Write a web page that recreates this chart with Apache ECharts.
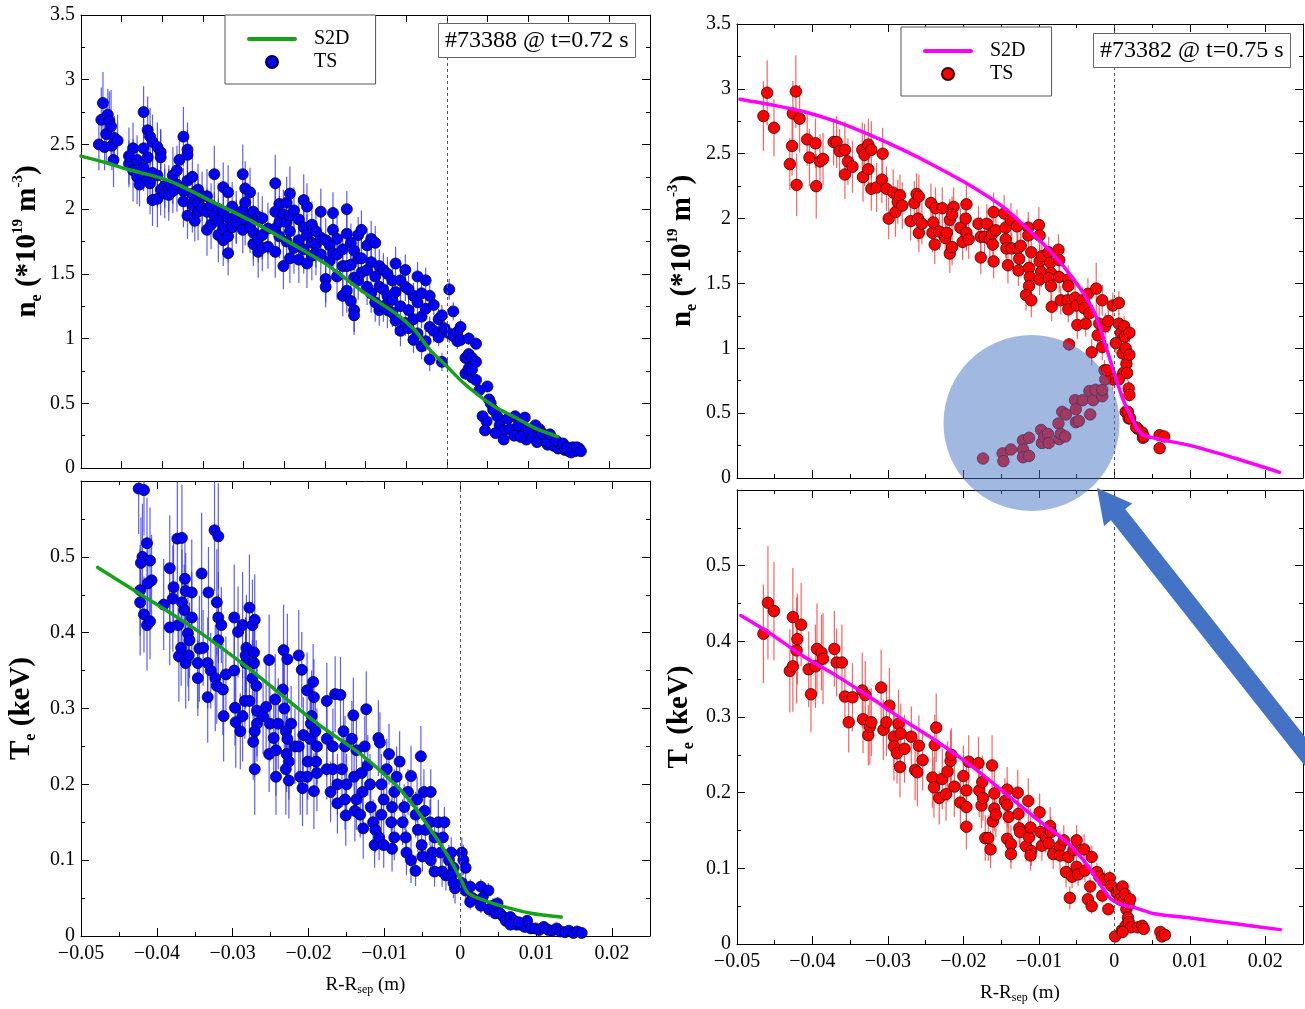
<!DOCTYPE html>
<html><head><meta charset="utf-8">
<script src="https://cdn.jsdelivr.net/npm/echarts@6/dist/echarts.min.js"></script>
<style>html,body{margin:0;padding:0;background:#fff}#c{width:1305px;height:1009px}</style>
</head><body><div id="c"></div>
<script>
const FONT = '"Liberation Serif","Times New Roman",serif';

// ---- #73388 @ t=0.72 s : n_e (TS) [x (m), ne (1e19 m^-3), error]
const neTS_73388 = [
[-0.0428,2.50,0.20],[-0.0425,2.69,0.25],[-0.0423,2.82,0.24],[-0.0421,2.48,0.18],[-0.0419,2.58,0.22],[-0.0417,2.73,0.20],[-0.0415,2.68,0.23],[-0.0413,2.64,0.28],[-0.0412,2.49,0.19],[-0.0410,2.38,0.21],[-0.0409,2.55,0.17],[-0.0405,2.53,0.20],
[-0.0391,2.35,0.18],[-0.0391,2.41,0.22],[-0.0386,2.47,0.20],[-0.0386,2.30,0.24],[-0.0381,2.38,0.19],[-0.0381,2.25,0.21],[-0.0378,2.19,0.17],[-0.0373,2.75,0.20],[-0.0373,2.47,0.23],[-0.0373,2.32,0.18],[-0.0368,2.61,0.26],[-0.0368,2.40,0.20],[-0.0368,2.23,0.19],[-0.0365,2.56,0.22],[-0.0365,2.20,0.24],[-0.0362,2.52,0.21],[-0.0362,2.28,0.18],[-0.0362,2.07,0.20],[-0.0356,2.48,0.19],[-0.0356,2.08,0.22],[-0.0356,2.26,0.25],[-0.0352,2.44,0.18],[-0.0352,2.40,0.21],[-0.0352,2.15,0.20],[-0.0347,2.18,0.17],[-0.0347,2.12,0.19],
[-0.0342,2.16,0.18],[-0.0342,2.11,0.20],[-0.0337,2.26,0.22],[-0.0337,2.14,0.17],[-0.0332,2.30,0.19],[-0.0332,2.19,0.21],[-0.0329,2.38,0.20],[-0.0324,2.56,0.23],[-0.0324,2.14,0.18],[-0.0324,2.06,0.20],[-0.0319,2.46,0.21],[-0.0319,2.42,0.19],[-0.0319,2.22,0.22],[-0.0319,1.95,0.18],[-0.0313,2.25,0.20],[-0.0313,2.12,0.17],[-0.0313,2.03,0.21],[-0.0310,2.08,0.19],[-0.0310,1.91,0.16],[-0.0306,2.15,0.20],[-0.0306,2.05,0.18],[-0.0306,1.98,0.22],[-0.0301,2.10,0.19],[-0.0301,2.01,0.17],
[-0.0295,2.10,0.21],[-0.0295,1.98,0.18],[-0.0295,1.84,0.20],[-0.0290,2.03,0.17],[-0.0290,1.88,0.19],[-0.0286,2.27,0.22],[-0.0286,1.95,0.18],[-0.0281,2.00,0.20],[-0.0281,1.91,0.17],[-0.0281,1.80,0.21],[-0.0275,2.17,0.19],[-0.0275,1.98,0.22],[-0.0275,1.85,0.18],[-0.0275,1.76,0.20],[-0.0269,2.13,0.21],[-0.0269,1.93,0.18],[-0.0269,1.66,0.17],[-0.0269,1.79,0.20],[-0.0264,2.02,0.19],[-0.0264,1.86,0.18],[-0.0259,1.94,0.20],[-0.0259,1.90,0.17],
[-0.0251,2.27,0.23],[-0.0251,1.99,0.19],[-0.0251,1.84,0.18],[-0.0248,2.16,0.21],[-0.0248,2.05,0.18],[-0.0248,1.92,0.20],[-0.0242,2.13,0.19],[-0.0242,1.96,0.17],[-0.0242,1.86,0.20],[-0.0238,1.98,0.18],[-0.0238,1.82,0.21],[-0.0238,1.73,0.17],[-0.0232,1.94,0.19],[-0.0232,1.77,0.18],[-0.0232,1.67,0.20],[-0.0227,1.93,0.17],[-0.0227,1.80,0.19],[-0.0227,1.70,0.18],[-0.0220,1.85,0.20],[-0.0220,1.71,0.17],[-0.0211,2.20,0.22],[-0.0211,1.98,0.19],[-0.0211,1.85,0.18],[-0.0211,1.67,0.20],[-0.0206,2.04,0.18],[-0.0206,1.90,0.20],[-0.0206,1.79,0.17],
[-0.0201,1.96,0.19],[-0.0201,1.56,0.18],[-0.0197,2.05,0.20],[-0.0197,1.90,0.17],[-0.0197,1.75,0.19],[-0.0193,2.12,0.21],[-0.0193,1.95,0.18],[-0.0193,1.83,0.17],[-0.0193,1.62,0.19],[-0.0188,1.99,0.18],[-0.0188,1.70,0.20],[-0.0182,1.92,0.17],[-0.0182,1.76,0.19],[-0.0182,1.61,0.18],[-0.0176,2.07,0.20],[-0.0176,1.86,0.17],[-0.0176,1.69,0.19],[-0.0172,2.02,0.18],[-0.0172,1.80,0.16],[-0.0172,1.58,0.19],[-0.0166,1.88,0.18],[-0.0166,1.74,0.17],[-0.0166,1.64,0.19],[-0.0161,1.83,0.16],[-0.0161,1.73,0.18],[-0.0161,1.66,0.17],[-0.0155,1.98,0.18],[-0.0155,1.78,0.16],[-0.0155,1.65,0.19],
[-0.0149,1.76,0.17],[-0.0149,1.46,0.18],[-0.0149,1.40,0.16],[-0.0144,1.72,0.15],[-0.0144,1.60,0.17],[-0.0140,1.97,0.16],[-0.0140,1.84,0.18],[-0.0140,1.66,0.15],[-0.0135,1.77,0.17],[-0.0135,1.65,0.16],[-0.0135,1.48,0.18],[-0.0128,1.69,0.15],[-0.0128,1.56,0.17],[-0.0128,1.33,0.16],[-0.0123,2.00,0.14],[-0.0123,1.81,0.16],[-0.0123,1.56,0.15],[-0.0123,1.37,0.17],[-0.0118,1.74,0.15],[-0.0118,1.57,0.16],[-0.0118,1.29,0.14],[-0.0114,1.68,0.15],[-0.0114,1.47,0.16],[-0.0114,1.22,0.17],[-0.0114,1.18,0.15],[-0.0109,1.80,0.14],[-0.0109,1.62,0.16],[-0.0109,1.45,0.15],[-0.0105,1.84,0.15],[-0.0105,1.62,0.14],[-0.0105,1.51,0.16],
[-0.0098,1.72,0.13],[-0.0098,1.53,0.15],[-0.0098,1.40,0.14],[-0.0093,1.77,0.14],[-0.0093,1.59,0.13],[-0.0093,1.35,0.15],[-0.0088,1.74,0.13],[-0.0088,1.48,0.14],[-0.0088,1.28,0.15],[-0.0083,1.56,0.13],[-0.0083,1.40,0.14],[-0.0083,1.22,0.12],[-0.0078,1.53,0.13],[-0.0078,1.38,0.14],[-0.0078,1.25,0.12],[-0.0073,1.50,0.13],[-0.0073,1.33,0.12],[-0.0073,1.22,0.14],[-0.0067,1.45,0.12],[-0.0067,1.30,0.13],[-0.0067,1.20,0.11],[-0.0063,1.58,0.13],[-0.0063,1.36,0.12],[-0.0063,1.14,0.11],[-0.0057,1.45,0.12],[-0.0057,1.25,0.11],[-0.0057,1.06,0.12],[-0.0051,1.53,0.12],[-0.0051,1.40,0.11],[-0.0051,1.12,0.10],
[-0.0047,1.38,0.11],[-0.0047,1.22,0.10],[-0.0047,1.08,0.11],[-0.0041,1.33,0.10],[-0.0041,1.15,0.11],[-0.0041,0.99,0.10],[-0.0036,1.48,0.11],[-0.0036,1.28,0.10],[-0.0036,1.04,0.09],[-0.0031,1.35,0.10],[-0.0031,1.17,0.09],[-0.0031,0.94,0.10],[-0.0026,1.45,0.10],[-0.0026,1.23,0.09],[-0.0026,0.98,0.08],[-0.0021,1.33,0.09],[-0.0021,1.09,0.08],[-0.0021,0.84,0.09],[-0.0016,1.26,0.08],[-0.0016,1.06,0.09],[-0.0010,1.15,0.08],[-0.0010,1.01,0.07],[-0.0006,1.18,0.08],[-0.0006,0.82,0.07],[-0.0003,1.08,0.07],
[0.0003,1.38,0.08],[0.0003,1.04,0.07],[0.0008,1.21,0.07],[0.0008,1.02,0.06],[0.0013,1.05,0.06],[0.0013,0.98,0.06],[0.0017,1.09,0.06],[0.0017,0.99,0.05],[0.0023,0.85,0.05],[0.0023,0.73,0.05],[0.0027,1.00,0.05],[0.0027,0.88,0.05],[0.0027,0.77,0.04],[0.0031,0.85,0.05],[0.0031,0.70,0.04],[0.0031,0.76,0.04],[0.0036,0.96,0.05],[0.0036,0.82,0.04],[0.0036,0.68,0.04],[0.0040,0.60,0.04],[0.0050,0.63,0.04],
[0.0052,0.53,0.04],[0.0054,0.50,0.03],[0.0044,0.40,0.03],[0.0049,0.36,0.03],[0.0047,0.29,0.03],[0.0062,0.40,0.03],[0.0065,0.33,0.03],[0.0070,0.29,0.03],[0.0070,0.22,0.02],[0.0075,0.38,0.03],[0.0078,0.30,0.03],[0.0083,0.25,0.02],[0.0084,0.40,0.03],[0.0091,0.36,0.03],[0.0093,0.30,0.02],[0.0098,0.22,0.02],[0.0096,0.39,0.03],[0.0101,0.28,0.02],[0.0106,0.24,0.02],[0.0111,0.20,0.02],[0.0114,0.30,0.02],[0.0119,0.25,0.02],[0.0122,0.20,0.02],[0.0124,0.18,0.02],[0.0130,0.22,0.02],[0.0132,0.17,0.02],[0.0137,0.15,0.02],[0.0140,0.18,0.02],[0.0145,0.14,0.02],[0.0150,0.13,0.02],[0.0155,0.16,0.02],[0.0158,0.13,0.02],[0.0161,0.14,0.02],[0.0163,0.15,0.02],[0.0124,0.20,0.02],[0.0091,0.24,0.02],
[0.0057,0.45,0.03],[0.0060,0.27,0.03],[0.0088,0.33,0.02],[0.0109,0.33,0.02],[0.0117,0.27,0.02],[0.0127,0.26,0.02],[0.0135,0.21,0.02],[0.0143,0.19,0.02],[0.0148,0.16,0.02],[0.0153,0.12,0.02],[0.0160,0.16,0.02],[0.0165,0.13,0.02]
];
const neS2D_73388 = [[-0.0450,2.41],[-0.0420,2.36],[-0.0394,2.31],[-0.0342,2.22],[-0.0286,2.05],[-0.0238,1.90],[-0.0187,1.72],[-0.0145,1.56],[-0.0105,1.37],[-0.0062,1.19],[-0.0040,1.07],[-0.0021,0.915],[0,0.786],[0.0020,0.66],[0.0041,0.553],[0.0060,0.47],[0.0082,0.398],[0.0108,0.31],[0.0136,0.243]];

// ---- #73388 : T_e (TS) [x (m), Te (keV), error]
const teTS_73388 = [
[-0.0424,0.590,0.06],[-0.0417,0.588,0.06],[-0.0413,0.518,0.06],[-0.0419,0.500,0.07],[-0.0421,0.492,0.06],[-0.0409,0.495,0.07],[-0.0407,0.469,0.06],[-0.0412,0.465,0.05],[-0.0422,0.456,0.06],[-0.0422,0.440,0.07],[-0.0417,0.424,0.05],[-0.0413,0.410,0.06],[-0.0409,0.415,0.05],
[-0.0391,0.437,0.06],[-0.0383,0.485,0.07],[-0.0383,0.407,0.05],[-0.0378,0.460,0.06],[-0.0379,0.445,0.07],[-0.0373,0.524,0.08],[-0.0367,0.525,0.07],[-0.0363,0.471,0.06],[-0.0362,0.455,0.05],[-0.0367,0.440,0.07],[-0.0364,0.430,0.06],[-0.0372,0.410,0.05],[-0.0371,0.369,0.06],[-0.0368,0.380,0.05],[-0.0362,0.360,0.06],[-0.0359,0.399,0.07],[-0.0354,0.420,0.06],[-0.0354,0.453,0.07],[-0.0357,0.390,0.05],[-0.0358,0.370,0.06],[-0.0346,0.340,0.05],[-0.0346,0.360,0.06],[-0.0344,0.379,0.07],[-0.0341,0.478,0.08],
[-0.0324,0.535,0.08],[-0.0319,0.527,0.07],[-0.0332,0.453,0.06],[-0.0321,0.440,0.07],[-0.0319,0.420,0.06],[-0.0315,0.410,0.05],[-0.0319,0.390,0.06],[-0.0339,0.380,0.05],[-0.0333,0.360,0.06],[-0.0329,0.350,0.05],[-0.0333,0.315,0.06],[-0.0323,0.340,0.07],[-0.0321,0.330,0.05],[-0.0313,0.325,0.06],[-0.0309,0.345,0.05],[-0.0312,0.290,0.06],[-0.0298,0.420,0.07],[-0.0298,0.350,0.05],
[-0.0293,0.401,0.06],[-0.0287,0.410,0.07],[-0.0297,0.301,0.05],[-0.0296,0.282,0.06],[-0.0290,0.270,0.05],[-0.0287,0.290,0.06],[-0.0284,0.310,0.05],[-0.0283,0.360,0.06],[-0.0282,0.380,0.07],[-0.0283,0.370,0.05],[-0.0278,0.433,0.07],[-0.0274,0.410,0.06],[-0.0271,0.417,0.06],[-0.0272,0.374,0.05],[-0.0272,0.360,0.06],[-0.0274,0.340,0.05],[-0.0269,0.330,0.06],[-0.0278,0.310,0.05],[-0.0268,0.297,0.06],[-0.0273,0.256,0.05],[-0.0271,0.220,0.06],[-0.0268,0.280,0.05],[-0.0271,0.270,0.06],[-0.0260,0.290,0.05],[-0.0256,0.302,0.06],[-0.0252,0.240,0.05],[-0.0251,0.280,0.05],[-0.0252,0.364,0.06],
[-0.0244,0.312,0.06],[-0.0246,0.261,0.05],[-0.0243,0.245,0.06],[-0.0243,0.210,0.05],[-0.0240,0.280,0.06],[-0.0233,0.377,0.06],[-0.0234,0.325,0.05],[-0.0232,0.300,0.06],[-0.0230,0.270,0.05],[-0.0228,0.260,0.06],[-0.0229,0.240,0.05],[-0.0226,0.230,0.05],[-0.0230,0.220,0.06],[-0.0226,0.205,0.05],[-0.0228,0.365,0.06],[-0.0223,0.280,0.05],[-0.0218,0.250,0.05],[-0.0207,0.265,0.05],[-0.0213,0.250,0.06],[-0.0211,0.210,0.05],[-0.0208,0.195,0.05],[-0.0213,0.370,0.06],[-0.0209,0.351,0.05],[-0.0202,0.324,0.05],[-0.0197,0.280,0.06],[-0.0198,0.260,0.05],[-0.0201,0.230,0.05],[-0.0193,0.191,0.05],[-0.0202,0.210,0.05],
[-0.0194,0.335,0.05],[-0.0193,0.315,0.05],[-0.0196,0.290,0.06],[-0.0191,0.270,0.05],[-0.0189,0.250,0.05],[-0.0190,0.230,0.04],[-0.0189,0.215,0.05],[-0.0176,0.310,0.05],[-0.0176,0.260,0.05],[-0.0176,0.220,0.04],[-0.0171,0.190,0.04],[-0.0168,0.220,0.05],[-0.0168,0.250,0.05],[-0.0162,0.200,0.04],[-0.0162,0.175,0.04],[-0.0165,0.319,0.05],[-0.0158,0.318,0.05],[-0.0154,0.270,0.05],[-0.0152,0.250,0.04],[-0.0156,0.220,0.05],[-0.0150,0.200,0.04],[-0.0152,0.180,0.04],[-0.0151,0.159,0.04],[-0.0143,0.260,0.05],
[-0.0141,0.291,0.05],[-0.0137,0.245,0.04],[-0.0140,0.210,0.04],[-0.0137,0.180,0.04],[-0.0139,0.165,0.04],[-0.0130,0.215,0.04],[-0.0129,0.190,0.04],[-0.0132,0.160,0.03],[-0.0128,0.142,0.04],[-0.0124,0.299,0.05],[-0.0126,0.250,0.04],[-0.0122,0.225,0.04],[-0.0119,0.200,0.04],[-0.0118,0.170,0.03],[-0.0115,0.150,0.03],[-0.0113,0.120,0.03],[-0.0112,0.140,0.03],[-0.0108,0.261,0.05],[-0.0106,0.255,0.04],[-0.0104,0.200,0.04],[-0.0101,0.180,0.03],[-0.0104,0.160,0.03],[-0.0107,0.130,0.03],[-0.0101,0.120,0.03],[-0.0094,0.240,0.04],[-0.0097,0.220,0.04],
[-0.0080,0.230,0.04],[-0.0084,0.210,0.04],[-0.0087,0.190,0.03],[-0.0090,0.170,0.03],[-0.0091,0.150,0.03],[-0.0087,0.130,0.03],[-0.0090,0.115,0.03],[-0.0065,0.211,0.04],[-0.0069,0.190,0.03],[-0.0074,0.170,0.03],[-0.0076,0.150,0.03],[-0.0072,0.130,0.03],[-0.0071,0.110,0.03],[-0.0065,0.100,0.03],[-0.0059,0.086,0.02],[-0.0057,0.180,0.03],[-0.0059,0.160,0.03],[-0.0056,0.140,0.03],[-0.0051,0.120,0.02],[-0.0050,0.105,0.02],[-0.0052,0.237,0.04],[-0.0048,0.190,0.03],[-0.0047,0.165,0.03],[-0.0046,0.140,0.03],
[-0.0039,0.190,0.03],[-0.0040,0.150,0.03],[-0.0034,0.130,0.02],[-0.0037,0.110,0.02],[-0.0039,0.100,0.02],[-0.0034,0.085,0.02],[-0.0029,0.150,0.03],[-0.0021,0.150,0.02],[-0.0023,0.130,0.02],[-0.0026,0.110,0.02],[-0.0024,0.085,0.02],[-0.0019,0.080,0.02],[-0.0015,0.100,0.02],[-0.0012,0.110,0.02],[-0.0009,0.090,0.02],[-0.0011,0.080,0.02],[-0.0007,0.063,0.02],[-0.0009,0.070,0.02],
[0.0002,0.110,0.02],[0.0004,0.100,0.02],[0.0007,0.090,0.02],[0.0002,0.070,0.015],[0.0007,0.060,0.015],[0.0013,0.065,0.01],[0.0016,0.050,0.01],[0.0013,0.045,0.01],[0.0027,0.065,0.01],[0.0037,0.060,0.01],[0.0029,0.050,0.01],[0.0027,0.040,0.01],[0.0038,0.035,0.01],[0.0043,0.040,0.01],[0.0046,0.030,0.008],[0.0049,0.043,0.008],[0.0052,0.030,0.008],[0.0057,0.025,0.006],[0.0060,0.020,0.006],[0.0066,0.025,0.006],[0.0071,0.020,0.005],[0.0074,0.015,0.005],[0.0079,0.015,0.005],[0.0085,0.012,0.005],[0.0088,0.020,0.005],[0.0093,0.010,0.004],[0.0099,0.010,0.004],[0.0104,0.008,0.004],[0.0110,0.012,0.004],[0.0116,0.008,0.004],[0.0121,0.007,0.003],[0.0127,0.010,0.003],[0.0132,0.006,0.003],[0.0138,0.005,0.003],[0.0143,0.007,0.003],[0.0149,0.004,0.003],[0.0154,0.006,0.003],[0.0160,0.004,0.003],[0.0066,0.015,0.005],[0.0077,0.018,0.005]
];
const teS2D_73388 = [[-0.0478,0.486],[-0.0427,0.454],[-0.0350,0.405],[-0.0279,0.353],[-0.0191,0.282],[-0.0129,0.238],[-0.0083,0.197],[-0.0061,0.171],[-0.0039,0.140],[-0.0021,0.113],[-0.0008,0.091],[0.0001,0.074],[0.0009,0.058],[0.0016,0.053],[0.0023,0.050],[0.0049,0.041],[0.0093,0.030],[0.0133,0.025]];

// ---- #73382 @ t=0.75 s : n_e (TS)
const neTS_73382 = [
[-0.0465,2.79,0.27],[-0.0460,2.97,0.25],[-0.0451,2.70,0.22],[-0.0430,2.42,0.20],[-0.0427,2.56,0.23],[-0.0426,2.81,0.25],[-0.0422,2.98,0.28],[-0.0421,2.26,0.24],[-0.0417,2.77,0.26],[-0.0407,2.61,0.20],[-0.0404,2.47,0.22],[-0.0396,2.58,0.19],[-0.0395,2.25,0.25],[-0.0390,2.44,0.21],[-0.0386,2.46,0.20],[-0.0372,2.59,0.18],[-0.0368,2.59,0.20],[-0.0364,2.52,0.17],[-0.0357,2.53,0.22],[-0.0357,2.34,0.19],[-0.0353,2.44,0.18],[-0.0347,2.40,0.20],[-0.0334,2.53,0.21],[-0.0333,2.32,0.19],[-0.0331,2.49,0.24],[-0.0326,2.57,0.20],[-0.0326,2.38,0.18],[-0.0322,2.53,0.22],[-0.0322,2.23,0.17],[-0.0315,2.24,0.19],[-0.0308,2.30,0.18],[-0.0307,2.50,0.20],[-0.0302,2.23,0.17],[-0.0299,2.00,0.16],[-0.0293,2.20,0.18],[-0.0290,2.05,0.19],[-0.0287,2.13,0.17],[-0.0284,2.18,0.16],[-0.0281,2.10,0.18],[-0.0270,1.98,0.15],[-0.0265,2.12,0.17],[-0.0262,2.19,0.16],[-0.0260,2.00,0.18],[-0.0259,1.89,0.15],[-0.0259,2.17,0.17],[-0.0255,1.96,0.16],[-0.0243,2.12,0.15],[-0.0240,1.97,0.17],[-0.0241,1.89,0.15],[-0.0237,2.08,0.16],[-0.0238,1.80,0.15],[-0.0232,1.90,0.14],[-0.0228,2.08,0.16],[-0.0224,1.85,0.15],[-0.0222,1.89,0.14],[-0.0218,1.99,0.16],[-0.0218,1.73,0.15],[-0.0215,1.78,0.14],[-0.0213,2.09,0.15],[-0.0215,2.03,0.14],[-0.0204,1.93,0.15],[-0.0201,1.82,0.14],[-0.0196,2.11,0.16],[-0.0197,2.00,0.15],[-0.0196,1.89,0.14],[-0.0193,1.84,0.15],[-0.0180,1.96,0.14],[-0.0177,1.86,0.15],[-0.0177,1.70,0.13],[-0.0172,1.86,0.14],[-0.0169,1.96,0.15],[-0.0165,1.84,0.14],[-0.0162,1.88,0.13],[-0.0161,1.80,0.14],[-0.0160,2.05,0.15],[-0.0160,1.67,0.13],[-0.0157,1.91,0.14],[-0.0146,2.04,0.14],[-0.0144,1.93,0.13],[-0.0144,1.84,0.14],[-0.0143,1.77,0.13],[-0.0141,1.64,0.14],[-0.0137,1.99,0.13],[-0.0136,1.77,0.12],[-0.0129,1.94,0.13],[-0.0128,1.77,0.12],[-0.0126,1.69,0.13],[-0.0127,1.60,0.12],[-0.0124,1.79,0.13],[-0.0114,1.93,0.12],[-0.0114,1.87,0.13],[-0.0113,1.62,0.12],[-0.0112,1.55,0.13],[-0.0110,1.74,0.12],[-0.0113,1.48,0.13],[-0.0117,1.41,0.12],[-0.0110,1.37,0.13],[-0.0100,1.95,0.14],[-0.0099,1.87,0.12],[-0.0099,1.67,0.13],[-0.0097,1.59,0.12],[-0.0096,1.71,0.13],[-0.0099,1.53,0.12],[-0.0087,1.74,0.12],[-0.0085,1.66,0.11],[-0.0084,1.58,0.12],[-0.0087,1.54,0.11],[-0.0084,1.48,0.12],[-0.0083,1.32,0.11],[-0.0074,1.76,0.12],[-0.0073,1.68,0.11],[-0.0073,1.55,0.12],[-0.0071,1.37,0.11],[-0.0061,1.53,0.11],[-0.0061,1.48,0.12],[-0.0062,1.37,0.11],[-0.0061,1.30,0.10],[-0.0060,1.03,0.05],[-0.0052,1.39,0.11],[-0.0050,1.33,0.10],[-0.0049,1.18,0.11],[-0.0042,1.37,0.10],[-0.0040,1.31,0.11],[-0.0038,1.19,0.10],[-0.0035,1.42,0.12],[-0.0033,1.27,0.10],[-0.0030,0.97,0.10],[-0.0024,1.46,0.20],[-0.0022,1.10,0.12],[-0.0020,1.19,0.14],[-0.0016,1.37,0.12],[-0.0016,1.01,0.10],[-0.0013,0.83,0.08],[-0.0012,1.17,0.10],[-0.0008,1.21,0.09],[-0.0002,1.33,0.10],[-0.0002,0.76,0.08],[0.0002,1.04,0.08],[0.0006,1.35,0.09],[0.0006,1.19,0.08],[0.0009,1.12,0.08],[0.0011,0.96,0.07],[0.0012,0.81,0.07],[0.0013,1.17,0.08],[0.0014,1.09,0.07],[0.0015,1.00,0.07],[0.0016,0.88,0.06],[0.0017,0.81,0.06],[0.0019,0.69,0.06],[0.0020,0.95,0.06],[0.0020,0.64,0.05],[0.0015,0.51,0.05],[0.0019,0.46,0.05],[0.0031,0.38,0.04],[0.0037,0.35,0.04],[0.0038,0.31,0.03],[0.0006,0.76,0.06],[0.0020,1.12,0.07],[0.0029,0.39,0.04],[0.0039,0.32,0.03],[0.0060,0.33,0.03],[0.0066,0.32,0.03],[0.0060,0.23,0.03],[0.0018,0.51,0.05],[0.0021,0.46,0.04],
[-0.0174,0.15,0],[-0.0148,0.19,0],[-0.0147,0.13,0],[-0.0137,0.22,0],[-0.0121,0.29,0],[-0.0121,0.22,0],[-0.0121,0.16,0],[-0.0113,0.31,0],[-0.0113,0.17,0],[-0.0097,0.37,0],[-0.0096,0.27,0],[-0.0093,0.32,0],[-0.0088,0.34,0],[-0.0087,0.27,0],[-0.0074,0.42,0],[-0.0073,0.30,0],[-0.0071,0.34,0],[-0.0065,0.32,0],[-0.0069,0.51,0],[-0.0064,0.49,0],[-0.0052,0.60,0],[-0.0051,0.53,0],[-0.0051,0.43,0],[-0.0047,0.44,0],[-0.0042,0.60,0],[-0.0033,0.67,0],[-0.0032,0.49,0],[-0.0028,0.60,0],[-0.0025,0.68,0],[-0.0016,0.63,0],[-0.0016,0.68,0],[-0.0012,0.76,0],[-0.0010,0.83,0]
];
const neS2D_73382 = [[-0.0496,2.92],[-0.0457,2.88],[-0.0412,2.825],[-0.0368,2.747],[-0.0324,2.645],[-0.0280,2.529],[-0.0236,2.40],[-0.0192,2.259],[-0.0148,2.092],[-0.0113,1.912],[-0.0082,1.732],[-0.0060,1.578],[-0.0038,1.398],[-0.0024,1.244],[-0.0011,1.013],[0.0,0.807],[0.0011,0.614],[0.0020,0.499],[0.0033,0.357],[0.0044,0.32],[0.0105,0.244],[0.0159,0.154],[0.0219,0.044]];

// ---- #73382 : T_e (TS)
const teTS_73382 = [
[-0.0465,0.410,0.065],[-0.0459,0.451,0.075],[-0.0451,0.440,0.065],[-0.0430,0.361,0.055],[-0.0426,0.432,0.065],[-0.0426,0.367,0.06],[-0.0421,0.388,0.07],[-0.0420,0.403,0.06],[-0.0415,0.422,0.055],[-0.0405,0.363,0.05],[-0.0402,0.330,0.05],[-0.0396,0.367,0.055],[-0.0394,0.390,0.06],[-0.0388,0.385,0.05],[-0.0386,0.377,0.06],[-0.0371,0.390,0.05],[-0.0368,0.372,0.045],[-0.0361,0.372,0.05],[-0.0357,0.327,0.04],[-0.0347,0.326,0.045],[-0.0352,0.293,0.04],[-0.0334,0.335,0.05],[-0.0330,0.329,0.045],[-0.0333,0.297,0.045],[-0.0326,0.276,0.04],[-0.0324,0.287,0.05],[-0.0322,0.293,0.045],[-0.0309,0.339,0.05],[-0.0306,0.283,0.04],[-0.0302,0.293,0.045],[-0.0298,0.315,0.05],[-0.0292,0.274,0.04],[-0.0292,0.261,0.045],[-0.0288,0.252,0.04],[-0.0286,0.291,0.045],[-0.0284,0.234,0.04],[-0.0283,0.278,0.04],[-0.0278,0.258,0.045],[-0.0269,0.274,0.04],[-0.0264,0.230,0.04],[-0.0261,0.227,0.045],[-0.0259,0.262,0.04],[-0.0254,0.243,0.04],[-0.0238,0.263,0.04],[-0.0236,0.286,0.045],[-0.0241,0.220,0.04],[-0.0239,0.207,0.04],[-0.0232,0.193,0.035],[-0.0228,0.218,0.04],[-0.0223,0.198,0.035],[-0.0221,0.228,0.04],[-0.0217,0.242,0.04],[-0.0216,0.250,0.035],[-0.0212,0.208,0.04],[-0.0204,0.187,0.035],[-0.0200,0.222,0.04],[-0.0196,0.181,0.035],[-0.0196,0.203,0.04],[-0.0196,0.155,0.03],[-0.0193,0.241,0.035],[-0.0180,0.239,0.035],[-0.0179,0.203,0.035],[-0.0176,0.183,0.03],[-0.0175,0.214,0.035],[-0.0174,0.193,0.03],[-0.0171,0.140,0.03],[-0.0167,0.140,0.03],[-0.0164,0.125,0.025],[-0.0162,0.236,0.04],[-0.0161,0.162,0.03],[-0.0159,0.199,0.035],[-0.0159,0.179,0.03],[-0.0157,0.171,0.03],[-0.0145,0.189,0.03],[-0.0142,0.204,0.03],[-0.0142,0.184,0.03],[-0.0140,0.168,0.025],[-0.0142,0.139,0.025],[-0.0137,0.132,0.025],[-0.0137,0.119,0.02],[-0.0128,0.200,0.03],[-0.0127,0.172,0.025],[-0.0126,0.153,0.025],[-0.0125,0.148,0.02],[-0.0117,0.129,0.02],[-0.0114,0.189,0.03],[-0.0113,0.141,0.02],[-0.0111,0.154,0.025],[-0.0110,0.123,0.02],[-0.0111,0.117,0.02],[-0.0099,0.174,0.025],[-0.0098,0.148,0.02],[-0.0096,0.130,0.02],[-0.0091,0.141,0.02],[-0.0087,0.133,0.02],[-0.0085,0.156,0.025],[-0.0084,0.148,0.02],[-0.0081,0.119,0.02],[-0.0072,0.129,0.02],[-0.0072,0.117,0.02],[-0.0067,0.137,0.02],[-0.0064,0.095,0.02],[-0.0061,0.115,0.02],[-0.0059,0.061,0.015],[-0.0056,0.089,0.015],[-0.0054,0.124,0.02],[-0.0050,0.137,0.02],[-0.0050,0.102,0.015],[-0.0048,0.092,0.015],[-0.0040,0.125,0.02],[-0.0039,0.097,0.015],[-0.0035,0.059,0.012],[-0.0032,0.076,0.012],[-0.0030,0.115,0.015],[-0.0030,0.050,0.01],[-0.0023,0.095,0.012],[-0.0020,0.089,0.012],[-0.0016,0.064,0.01],[-0.0013,0.085,0.012],[-0.0008,0.046,0.008],[-0.0006,0.087,0.01],[-0.0004,0.077,0.01],[0.0001,0.010,0.004],[0.0003,0.068,0.008],[0.0006,0.071,0.008],[0.0007,0.059,0.008],[0.0010,0.018,0.005],[0.0011,0.076,0.008],[0.0012,0.057,0.007],[0.0014,0.066,0.007],[0.0015,0.024,0.005],[0.0016,0.046,0.006],[0.0018,0.035,0.005],[0.0019,0.053,0.006],[0.0019,0.029,0.005],[0.0021,0.059,0.006],[0.0022,0.022,0.004],[0.0031,0.022,0.004],[0.0037,0.024,0.004],[0.0039,0.020,0.004],[0.0061,0.016,0.003],[0.0063,0.010,0.003],[0.0067,0.012,0.003],[0.0011,0.016,0.004]
];
const teS2D_73382 = [[-0.0495,0.434],[-0.0457,0.411],[-0.0413,0.381],[-0.0369,0.355],[-0.0325,0.327],[-0.0281,0.297],[-0.0237,0.269],[-0.0193,0.238],[-0.0149,0.203],[-0.0105,0.167],[-0.0061,0.133],[-0.0034,0.102],[-0.0017,0.076],[-0.0004,0.059],[0.0007,0.053],[0.0027,0.048],[0.0054,0.040],[0.0104,0.034],[0.0158,0.027],[0.022,0.019]];

const shotLabels = ['#73388 @ t=0.72 s', '#73382 @ t=0.75 s'];
const shots = ['73388', '73382'];

// ---------------------------------------------------------------
const fmtX = v => Math.abs(v) < 1e-9 ? '0' : (v < 0 ? '\u2212' : '') + Math.abs(v).toFixed(2);
const fmtNe = v => String(+v.toFixed(2));
const fmtTe = v => v > 0.55 ? '' : String(+v.toFixed(2));

const grids = [
  {left: 81, top: 15, width: 569, height: 453},
  {left: 81, top: 481, width: 569, height: 455},
  {left: 737, top: 24, width: 566, height: 454},
  {left: 737, top: 490, width: 566, height: 454}
];

const yRich = {
  m: {fontFamily: FONT, fontSize: 29, fontWeight: 'bold', color: '#000', lineHeight: 34},
  s: {fontFamily: FONT, fontSize: 16, fontWeight: 'bold', color: '#000', verticalAlign: 'bottom', lineHeight: 16},
  p: {fontFamily: FONT, fontSize: 15, fontWeight: 'bold', color: '#000', verticalAlign: 'top', lineHeight: 15}
};
const xRich = {
  m: {fontFamily: FONT, fontSize: 19, color: '#000', lineHeight: 22},
  s: {fontFamily: FONT, fontSize: 12, color: '#000', verticalAlign: 'bottom', lineHeight: 12}
};

function xAxisDef(gi, pos, min, max, itv, labels, minor, name) {
  return {
    type: 'value', gridIndex: gi, position: pos, min: min, max: max, interval: itv,
    axisLine: {show: true, onZero: false, lineStyle: {color: '#000', width: 1}},
    axisTick: {show: true, inside: true, length: minor ? 8 : 7, lineStyle: {color: '#000'}},
    minorTick: {show: minor, splitNumber: 2, length: 4, lineStyle: {color: '#000'}},
    splitLine: {show: false}, minorSplitLine: {show: false},
    axisLabel: {show: labels, formatter: fmtX, fontFamily: FONT, fontSize: 20, color: '#000', margin: 8, interval: 0, showMinLabel: true, showMaxLabel: false, hideOverlap: false},
    name: name || '', nameLocation: 'middle', nameGap: 38,
    nameTextStyle: {rich: xRich}
  };
}
function yAxisDef(gi, pos, max, itv, fmt, labels, name, gap) {
  return {
    type: 'value', gridIndex: gi, position: pos, min: 0, max: max, interval: itv,
    axisLine: {show: true, onZero: false, lineStyle: {color: '#000', width: 1}},
    axisTick: {show: true, inside: true, length: 8, lineStyle: {color: '#000'}},
    minorTick: {show: true, splitNumber: 2, length: 4, lineStyle: {color: '#000'}},
    splitLine: {show: false}, minorSplitLine: {show: false},
    axisLabel: {show: labels, formatter: fmt, fontFamily: FONT, fontSize: 20, color: '#000', margin: 6, showMinLabel: true, showMaxLabel: true, hideOverlap: false},
    name: name || '', nameLocation: 'middle', nameRotate: 90, nameGap: gap || 40,
    nameTextStyle: {rich: yRich}
  };
}

const neName = '{m|n}{s|e}{m| (*10}{p|19}{m| m}{p|-3}{m|)}';
const teName = '{m|T}{s|e}{m| (keV)}';
const xName = '{m|R-R}{s|sep}{m| (m)}';

const xAxes = [
  xAxisDef(0, 'bottom', -0.045, 0.025, 0.005, false, false),
  xAxisDef(0, 'top', -0.045, 0.025, 0.005, false, false),
  xAxisDef(1, 'bottom', -0.05, 0.025, 0.01, true, true, xName),
  xAxisDef(1, 'top', -0.05, 0.025, 0.01, false, true),
  xAxisDef(2, 'bottom', -0.05, 0.025, 0.01, false, true),
  xAxisDef(2, 'top', -0.05, 0.025, 0.01, false, true),
  xAxisDef(3, 'bottom', -0.05, 0.025, 0.01, true, true, xName),
  xAxisDef(3, 'top', -0.05, 0.025, 0.01, false, true)
];
const yAxes = [
  yAxisDef(0, 'left', 3.5, 0.5, fmtNe, true, neName, 36),
  yAxisDef(0, 'right', 3.5, 0.5, fmtNe, false),
  yAxisDef(1, 'left', 0.6, 0.1, fmtTe, true, teName, 42),
  yAxisDef(1, 'right', 0.6, 0.1, fmtTe, false),
  yAxisDef(2, 'left', 3.5, 0.5, fmtNe, true, neName, 37),
  yAxisDef(2, 'right', 3.5, 0.5, fmtNe, false),
  yAxisDef(3, 'left', 0.6, 0.1, fmtTe, true, teName, 40),
  yAxisDef(3, 'right', 0.6, 0.1, fmtTe, false)
];

function panelSeries(gi, ts, s2d, shot, dotColor, dotBorder, barColor, lineColor, size) {
  return [
    {
      type: 'custom', xAxisIndex: 2 * gi, yAxisIndex: 2 * gi, data: ts, clip: true, silent: true, z: 2,
      encode: {x: 0, y: 1},
      renderItem: function (params, api) {
        const x = api.value(0), y = api.value(1), e = api.value(2);
        if (!e) return null;
        const a = api.coord([x, y - e]), b = api.coord([x, y + e]);
        return {type: 'line', shape: {x1: a[0], y1: a[1], x2: b[0], y2: b[1]}, style: {stroke: barColor, lineWidth: 1.2}};
      }
    },
    {
      type: 'scatter', name: 'TS ' + shot, xAxisIndex: 2 * gi, yAxisIndex: 2 * gi, data: ts, z: 3,
      symbol: 'circle', symbolSize: size, clip: true, silent: true,
      itemStyle: {color: dotColor, borderColor: dotBorder, borderWidth: 0.8, opacity: 1}
    },
    {
      type: 'line', name: 'S2D ' + shot, xAxisIndex: 2 * gi, yAxisIndex: 2 * gi, data: s2d, z: 4,
      symbol: 'none', showSymbol: false, smooth: 0.3, clip: true, silent: true,
      lineStyle: {color: lineColor, width: 3.5, cap: 'round', join: 'round'}, itemStyle: {color: lineColor},
      markLine: {
        silent: true, symbol: ['none', 'none'], label: {show: false}, animation: false,
        lineStyle: {color: '#555', type: [3, 3], width: 1},
        data: [{xAxis: 0}]
      }
    }
  ];
}

const GREEN = '#15a215', MAG = '#ff00ff';
const series = [].concat(
  panelSeries(0, neTS_73388, neS2D_73388, shots[0], '#0000ff', '#00003a', 'rgba(40,40,255,0.75)', GREEN, 11),
  panelSeries(1, teTS_73388, teS2D_73388, shots[0], '#0000ff', '#00003a', 'rgba(40,40,255,0.75)', GREEN, 11),
  panelSeries(2, neTS_73382, neS2D_73382, shots[1], '#ff0000', '#3a0000', 'rgba(255,60,60,0.8)', MAG, 11.5),
  panelSeries(3, teTS_73382, teS2D_73382, shots[1], '#ff0000', '#3a0000', 'rgba(255,60,60,0.8)', MAG, 11.5)
);

function legendDef(shot, left, top, color) {
  return {
    data: [{name: 'S2D ' + shot, itemStyle: {opacity: 0}, lineStyle: {width: 4, color: color}}, {name: 'TS ' + shot}],
    left: left, top: top, orient: 'vertical',
    selectedMode: false, itemWidth: 46, itemHeight: 12, itemGap: 3,
    padding: [14, 26, 12, 22], borderColor: '#555', borderWidth: 1, backgroundColor: '#fff',
    formatter: n => n.split(' ')[0],
    textStyle: {fontFamily: FONT, fontSize: 20, color: '#000', lineHeight: 20, padding: [0, 0, 0, 14]}
  };
}

function titleDef(text, left, top) {
  return {
    text: text, left: left, top: top, padding: [4, 7, 4, 7],
    borderColor: '#666', borderWidth: 1, backgroundColor: '#fff', z: 10,
    textStyle: {fontFamily: FONT, fontSize: 24, fontWeight: 'normal', color: '#000', lineHeight: 27}
  };
}

const chart = echarts.init(document.getElementById('c'), null, {renderer: 'canvas'});
chart.setOption({
  backgroundColor: '#fff',
  animation: false,
  grid: grids.map(g => Object.assign({containLabel: false, outerBoundsMode: 'none'}, g)),
  xAxis: xAxes,
  yAxis: yAxes,
  legend: [legendDef(shots[0], 225, 15, GREEN), legendDef(shots[1], 901, 27, MAG)],
  title: [titleDef(shotLabels[0], 438, 23), titleDef(shotLabels[1], 1093, 33)],
  series: series,
  graphic: [
    {type: 'circle', z: 100, silent: true, shape: {cx: 1031.5, cy: 423, r: 88}, style: {fill: 'rgba(68,114,196,0.5)'}},
    {type: 'polygon', z: 101, silent: true, shape: {points: [[1097, 488], [1104, 525.9], [1111.0, 520.3], [1325.6, 792.0], [1339.6, 780.7], [1125.2, 509.1], [1132.2, 503.5]]}, style: {fill: '#4472C4'}}
  ]
});
</script>
</body></html>
